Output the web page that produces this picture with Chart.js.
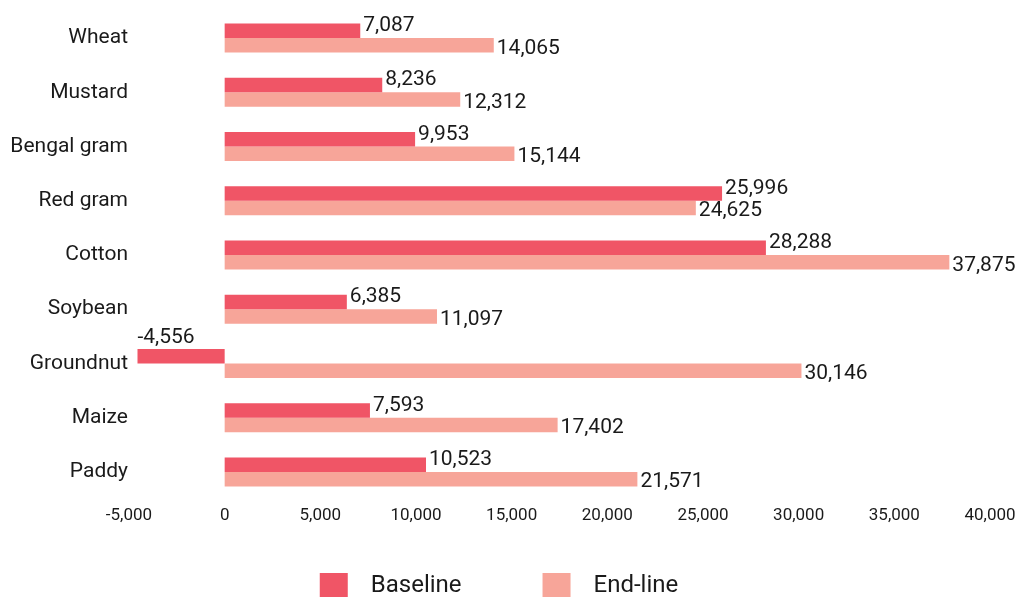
<!DOCTYPE html>
<html>
<head>
<meta charset="utf-8">
<script src="https://cdn.jsdelivr.net/npm/chart.js@4.4.1/dist/chart.umd.min.js"></script>
<style>
  html, body { margin: 0; padding: 0; background: #ffffff; }
  #wrap { width: 1024px; height: 597px; position: relative; }
</style>
</head>
<body>
<div id="wrap"><canvas id="cropChart"></canvas></div>
<script>
// datos
const crops = ['Wheat', 'Mustard', 'Bengal gram', 'Red gram', 'Cotton', 'Soybean', 'Groundnut', 'Maize', 'Paddy'];
const baseline = [7087, 8236, 9953, 25996, 28288, 6385, -4556, 7593, 10523];
const endline = [14065, 12312, 15144, 24625, 37875, 11097, 30146, 17402, 21571];
const seriesNames = ['Baseline', 'End-line'];
const seriesColors = ['#F05566', '#F7A599'];

const FONT = 'Roboto, "Noto Sans", sans-serif';
const fmt = v => v.toLocaleString('en-US');

// etiquetas de valor al final de cada barra
const valueLabels = {
    id: 'valueLabels',
    afterDatasetsDraw(chart) {
        const ctx = chart.ctx;
        ctx.save();
        ctx.font = '21px ' + FONT;
        ctx.fillStyle = '#1a1a1a';
        chart.data.datasets.forEach((ds, di) => {
            const meta = chart.getDatasetMeta(di);
            meta.data.forEach((bar, i) => {
                const v = ds.data[i];
                ctx.textAlign = 'left';
                if (v >= 0) {
                    ctx.textBaseline = 'middle';
                    ctx.fillText(fmt(v), bar.x + 3, bar.y + (di === 0 ? -5 : 3));
                } else {
                    ctx.textBaseline = 'alphabetic';
                    ctx.fillText(fmt(v), bar.x, bar.y - bar.height / 2 - 6);
                }
            });
        });
        ctx.restore();
    }
};

// leyenda inferior dibujada a mano
const bottomLegend = {
    id: 'bottomLegend',
    afterDraw(chart) {
        const ctx = chart.ctx;
        ctx.save();
        ctx.font = '24px ' + FONT;
        const boxW = 28, boxH = 24, gapText = 23, gapItem = 81;
        const widths = seriesNames.map(n => boxW + gapText + ctx.measureText(n).width);
        const total = widths.reduce((a, b) => a + b, 0) + gapItem * (widths.length - 1);
        let x = chart.width / 2 - 13 - total / 2;
        const top = chart.height - boxH;
        seriesNames.forEach((name, i) => {
            ctx.fillStyle = seriesColors[i];
            ctx.fillRect(x, top, boxW, boxH);
            ctx.fillStyle = '#1a1a1a';
            ctx.textAlign = 'left';
            ctx.textBaseline = 'middle';
            ctx.fillText(name, x + boxW + gapText, top + boxH / 2 + 1);
            x += widths[i] + gapItem;
        });
        ctx.restore();
    }
};

const ctx = document.getElementById('cropChart').getContext('2d');
new Chart(ctx, {
    type: 'bar',
    data: {
        labels: crops,
        datasets: [
            { label: seriesNames[0], data: baseline, backgroundColor: seriesColors[0], borderWidth: 0 },
            { label: seriesNames[1], data: endline, backgroundColor: seriesColors[1], borderWidth: 0 }
        ]
    },
    options: {
        indexAxis: 'y',
        responsive: true,
        maintainAspectRatio: false,
        animation: false,
        categoryPercentage: 0.535,
        barPercentage: 1.0,
        layout: { padding: { top: 11, right: 34, bottom: 62, left: 0 } },
        plugins: {
            legend: { display: false },
            tooltip: { enabled: false }
        },
        scales: {
            x: {
                min: -5000,
                max: 40000,
                grid: { display: false, drawTicks: false },
                border: { display: false },
                ticks: {
                    stepSize: 5000,
                    padding: 7,
                    color: '#1a1a1a',
                    font: { family: FONT, size: 17 },
                    maxRotation: 0,
                    callback: v => fmt(v)
                },
                afterFit: scale => { scale.height = 36; }
            },
            y: {
                grid: { display: false, drawTicks: false },
                border: { display: false },
                ticks: {
                    padding: 1,
                    color: '#1a1a1a',
                    font: { family: FONT, size: 21 }
                },
                afterFit: scale => {
                    scale.width = 129;
                    scale.paddingTop = 0;
                    scale.paddingBottom = 0;
                }
            }
        }
    },
    plugins: [valueLabels, bottomLegend]
});
</script>
</body>
</html>
